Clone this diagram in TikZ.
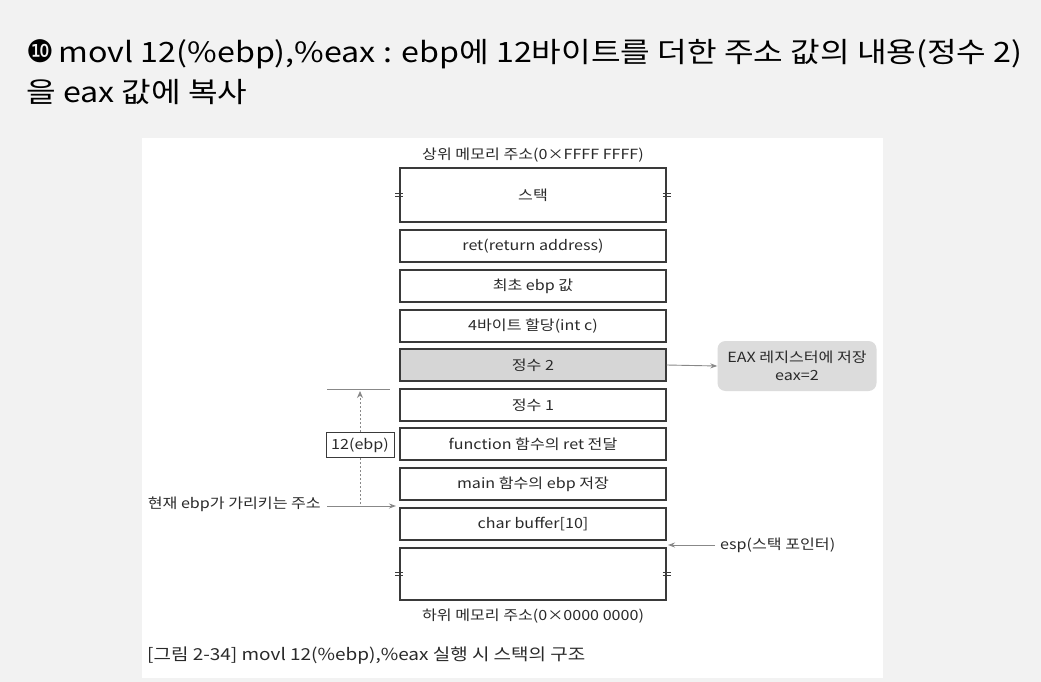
\documentclass[tikz,border=0pt]{standalone}
\usepackage{fontspec}
\setmainfont{Noto Sans CJK KR}[FakeStretch=1.15]
\newfontfamily\dejavu{DejaVu Sans}
\usetikzlibrary{arrows.meta}
\definecolor{outerbg}{HTML}{F2F2F2}
\definecolor{boxline}{HTML}{3A3A3A}
\definecolor{textgray}{HTML}{2A2A2A}
\definecolor{grayfill}{HTML}{D6D6D6}
\definecolor{eaxfill}{HTML}{DCDCDC}
\definecolor{arrowgray}{HTML}{888888}
\tikzset{
  mem/.style={draw=boxline, line width=1.3pt, fill=white, minimum width=266pt, minimum height=32pt, inner sep=0pt, text=textgray, font=\fontsize{14}{16}\selectfont},
  lbl/.style={inner sep=0pt, text=textgray, font=\fontsize{14}{16}\selectfont},
  garrow/.style={draw=arrowgray, line width=0.9pt, -{Stealth[length=7pt,width=5pt]}},
  tick/.style={draw=boxline, line width=0.8pt},
}
\begin{document}
\begin{tikzpicture}[x=1pt,y=-1pt]
\fill[outerbg] (0,0) rectangle (1041,682);
\fill[white] (142,138) rectangle (883,678);
\useasboundingbox (0,0) rectangle (1041,682);

% title
\node[anchor=west, inner sep=0pt, font=\fontsize{28}{32}\selectfont] (t1) at (26,54) {{\dejavu\fontsize{31}{32}\selectfont ❿}\,movl 12(\%ebp),\%eax : ebp에 12바이트를 더한 주소 값의 내용(정수 2)};
\node[anchor=west, inner sep=0pt, font=\fontsize{28}{32}\selectfont] (t2) at (26,92) {을 eax 값에 복사};

% labels
\node[lbl] (top) at (533,155) {상위 메모리 주소(0×FFFF FFFF)};
\node[lbl] (bottomlbl) at (533,616) {하위 메모리 주소(0×0000 0000)};

% stack boxes
\node[mem, minimum height=54pt] (stack) at (533,195) {스택};
\node[mem] (ret) at (533,246) {ret(return address)};
\node[mem] (ebp0) at (533,286) {최초 ebp 값};
\node[mem] (alloc) at (533,326) {4바이트 할당(int c)};
\node[mem, fill=grayfill] (i2) at (533,365) {정수 2};
\node[mem] (i1) at (533,405) {정수 1};
\node[mem] (func) at (533,444) {function 함수의 ret 전달};
\node[mem] (mainb) at (533,484) {main 함수의 ebp 저장};
\node[mem] (buf) at (533,524) {char buffer[10]};
\node[mem, minimum height=52pt] (bot) at (533,574) {};

% break ticks
\foreach \n in {stack,bot}{
  \foreach \a in {west,east}{
    \draw[tick] ([xshift=-4pt,yshift=-1.5pt]\n.\a) -- ([xshift=4pt,yshift=-1.5pt]\n.\a);
    \draw[tick] ([xshift=-4pt,yshift=1.5pt]\n.\a) -- ([xshift=4pt,yshift=1.5pt]\n.\a);
  }
}

% EAX box
\node[fill=eaxfill, rounded corners=8pt, minimum width=159pt, minimum height=50pt, align=center, inner sep=0pt, text=textgray, font=\fontsize{14}{18}\selectfont] (eax) at (797,366) {EAX 레지스터에 저장\\eax=2};
\draw[garrow] (i2.east) -- (eax.west);

% ebp pointer
\node[lbl, anchor=east] (cur) at (321,504) {현재 ebp가 가리키는 주소};
\coordinate (curstart) at (327,506);
\coordinate (curend) at (396,506);
\draw[garrow] (curstart) -- (curend);

% 12(ebp)
\coordinate (lineL) at (327,389);
\coordinate (lineR) at (390,389);
\draw[draw=arrowgray, line width=1pt] (lineL) -- (lineR);
\node[draw=boxline, line width=1pt, fill=white, minimum width=68pt, minimum height=25pt, inner sep=0pt, text=textgray, font=\fontsize{14}{16}\selectfont] (off) at (360,445) {12(ebp)};
\coordinate (dotbot) at (360,504);
\coordinate (dottop) at (360,391);
\draw[draw=arrowgray, line width=1pt, dash pattern=on 2pt off 2pt] (dotbot) -- (off.south);
\draw[draw=arrowgray, line width=1pt, dash pattern=on 2pt off 2pt, -{Stealth[length=7pt,width=6pt]}] (off.north) -- (dottop);

% esp
\node[lbl, anchor=west] (esp) at (720,545) {esp(스택 포인터)};
\coordinate (espend) at (668,545);
\draw[garrow] ([xshift=-5pt]esp.west) -- (espend);

% caption
\node[anchor=west, inner sep=0pt, text=textgray, font=\fontsize{16.5}{19}\selectfont] (cap) at (147,656) {[그림 2-34] movl 12(\%ebp),\%eax 실행 시 스택의 구조};
\end{tikzpicture}
\end{document}
